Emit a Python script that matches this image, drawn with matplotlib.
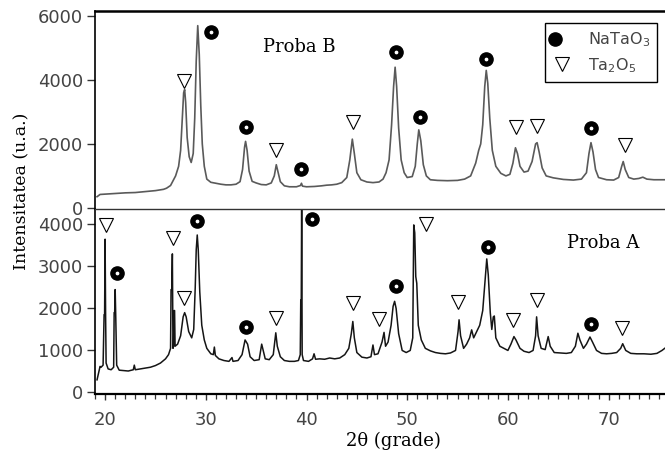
import matplotlib
matplotlib.use('Agg')
from matplotlib import pyplot as plt
from matplotlib.lines import Line2D
from matplotlib.legend_handler import HandlerTuple
from matplotlib.ticker import MultipleLocator

# Proba B (top pattern)
x_b = [19.2, 19.5, 20.0, 20.5, 21.0, 22.0, 23.0, 24.0, 25.0, 25.8, 26.1, 26.5, 27.0, 27.3,
       27.5, 27.65, 27.8, 27.9, 28.0, 28.15, 28.35, 28.55, 28.75, 28.9, 29.05, 29.2,
       29.35, 29.5, 29.65, 29.85, 30.1, 30.5, 31.0, 31.5, 32.0, 32.5, 33.0, 33.4, 33.65,
       33.85, 33.95, 34.1, 34.3, 34.6, 35.0, 35.5, 36.0, 36.5, 36.8, 37.0, 37.15, 37.4,
       37.8, 38.3, 39.0, 39.4, 39.5, 39.6, 40.0, 40.8, 41.5, 42.0, 42.5, 43.0, 43.5, 44.0,
       44.3, 44.55, 44.75, 45.0, 45.4, 46.0, 46.6, 47.2, 47.6, 47.9, 48.2, 48.45, 48.65,
       48.8, 48.95, 49.15, 49.4, 49.7, 50.0, 50.5, 50.8, 51.0, 51.15, 51.35, 51.6, 51.9,
       52.3, 53.0, 54.0, 55.0, 55.7, 56.3, 56.8, 57.1, 57.3, 57.5, 57.7, 57.85, 58.0,
       58.2, 58.45, 58.8, 59.3, 59.8, 60.2, 60.5, 60.75, 60.95, 61.2, 61.6, 62.0, 62.4,
       62.75, 62.9, 63.1, 63.4, 63.8, 64.5, 65.5, 66.5, 67.3, 67.8, 68.05, 68.25, 68.45,
       68.7, 69.0, 69.8, 70.5, 71.0, 71.3, 71.45, 71.65, 72.0, 72.5, 73.0, 73.4, 73.8,
       74.5, 75.6]
y_b = [350, 420, 430, 440, 450, 470, 480, 510, 540, 580, 615, 700, 1000, 1300,
       1800, 2700, 3600, 3700, 3300, 2200, 1600, 1420, 1700, 2800, 4600, 5700,
       4800, 3200, 2000, 1300, 900, 800, 770, 740, 720, 720, 740, 820, 1200,
       1900, 2080, 1800, 1150, 830, 780, 730, 720, 780, 1000, 1350, 1150, 820,
       690, 660, 660, 700, 770, 680, 660, 670, 690, 710, 720, 740, 790, 950,
       1500, 2150, 1700, 1100, 880, 810, 790, 810, 900, 1100, 1500, 2600, 3800,
       4400, 3800, 2500, 1500, 1100, 950, 980, 1300, 2000, 2440, 2100, 1350, 1000,
       880, 860, 850, 860, 900, 1000, 1400, 1800, 2000, 2600, 3800, 4300, 3900,
       2800, 1800, 1300, 1080, 1000, 1050, 1400, 1880, 1700, 1300, 1120, 1150, 1450,
       2000, 2040, 1750, 1250, 1000, 940, 890, 870, 900, 1100, 1700, 2040, 1750,
       1200, 950, 880, 870, 950, 1300, 1450, 1200, 950, 900, 920, 960, 900,
       880, 880]

# Proba A (bottom pattern)
x_a = [19.2, 19.5, 19.6, 19.8, 19.9, 19.95, 20.0, 20.05, 20.1, 20.3, 20.6, 20.85, 20.9,
       20.95, 21.0, 21.05, 21.15, 21.4, 21.8, 22.3, 22.8, 22.9, 23.0, 23.5, 24.0, 24.5,
       25.0, 25.5, 26.0, 26.3, 26.5, 26.55, 26.62, 26.68, 26.74, 26.8, 26.85, 26.9,
       26.95, 27.2, 27.5, 27.75, 27.9, 28.05, 28.3, 28.6, 28.8, 28.95, 29.05, 29.15,
       29.25, 29.4, 29.6, 29.85, 30.1, 30.5, 30.75, 30.85, 30.95, 31.3, 31.8, 32.3,
       32.6, 32.7, 33.2, 33.6, 33.9, 34.15, 34.4, 34.8, 35.3, 35.55, 35.7, 35.9, 36.3,
       36.7, 36.95, 37.1, 37.4, 37.8, 38.3, 38.8, 39.2, 39.38, 39.43, 39.48, 39.52,
       39.57, 39.7, 40.2, 40.6, 40.75, 40.9, 41.3, 41.8, 42.3, 42.8, 43.3, 43.8, 44.2,
       44.45, 44.6, 44.75, 45.0, 45.5, 46.0, 46.4, 46.6, 46.75, 47.1, 47.5, 47.7,
       47.85, 48.1, 48.4, 48.6, 48.75, 48.9, 49.15, 49.5, 49.9, 50.3, 50.55, 50.65,
       50.75, 50.85, 50.95, 51.1, 51.4, 51.8, 52.3, 52.8, 53.3, 53.8, 54.3, 54.8,
       55.05, 55.15, 55.3, 55.6, 55.9, 56.2, 56.4, 56.6, 56.9, 57.2, 57.5, 57.75,
       57.9, 58.05, 58.25, 58.4, 58.55, 58.65, 58.8, 59.2, 59.6, 60.0, 60.3, 60.6,
       60.8, 61.2, 61.6, 62.1, 62.5, 62.75, 62.85, 63.0, 63.3, 63.7, 64.0, 64.2,
       64.6, 65.2, 65.8, 66.3, 66.7, 66.95, 67.15, 67.5, 67.8, 68.15, 68.4, 68.8,
       69.3, 69.8, 70.3, 70.8, 71.2, 71.4, 71.7, 72.2, 72.8, 73.5, 74.2, 74.8, 75.3,
       75.6]
y_a = [300, 620, 600, 650, 1850, 1850, 3650, 1850, 700, 560, 540, 600, 1900,
       1900, 2450, 1900, 650, 530, 520, 510, 540, 650, 540, 560, 580, 600,
       640, 700, 800, 900, 1050, 2450, 2450, 3300, 1050, 1100, 1950, 1950,
       1100, 1150, 1350, 1800, 1900, 1800, 1450, 1300, 1500, 2500, 3400, 3750,
       3400, 2400, 1600, 1250, 1050, 920, 900, 1080, 880, 800, 760, 740,
       830, 740, 760, 900, 1250, 1150, 850, 760, 780, 1150, 1000, 800, 780,
       900, 1420, 1100, 850, 760, 740, 740, 760, 900, 2200, 2200, 4600,
       900, 760, 740, 800, 920, 790, 800, 790, 820, 800, 820, 900, 1050,
       1400, 1690, 1300, 950, 840, 820, 850, 1130, 900, 920, 1200, 1430,
       1100, 1200, 1600, 2050, 2170, 2000, 1400, 1000, 950, 1000, 1300, 3990,
       3800, 2760, 2600, 1600, 1250, 1050, 990, 950, 930, 920, 940, 1000,
       1450, 1730, 1350, 1050, 1150, 1300, 1490, 1300, 1450, 1600, 1950, 2700,
       3180, 2800, 1900, 1500, 1800, 1820, 1300, 1100, 1050, 1000, 1150, 1330,
       1250, 1050, 980, 950, 1000, 1350, 1800, 1350, 1050, 1020, 1330, 1100,
       950, 940, 930, 950, 1100, 1410, 1250, 1050, 1150, 1320, 1200, 1000,
       930, 920, 930, 950, 1050, 1160, 1000, 930, 920, 920, 910, 930, 1000,
       1055]

# phase markers (position, height) for each pattern
natao3_b_x = [30.5, 34.0, 39.5, 48.9, 51.3, 57.8, 68.3]
natao3_b_y = [5510, 2520, 1220, 4885, 2855, 4655, 2510]
ta2o5_b_x = [27.8, 37.0, 44.6, 60.8, 62.9, 71.6]
ta2o5_b_y = [3970, 1810, 2700, 2540, 2560, 1970]

natao3_a_x = [21.2, 29.1, 34.0, 40.5, 48.9, 58.0, 68.3]
natao3_a_y = [2840, 4095, 1570, 4125, 2540, 3475, 1635]
ta2o5_a_x = [20.1, 26.7, 27.8, 37.0, 44.65, 47.2, 51.85, 55.0, 60.55, 62.9, 71.3]
ta2o5_a_y = [3990, 3690, 2260, 1770, 2125, 1745, 4015, 2165, 1730, 2205, 1530]

serif = 'DejaVu Serif'

fig, (ax1, ax2) = plt.subplots(2, 1, sharex=True, figsize=(6.65, 4.61), dpi=100,
                               gridspec_kw={'height_ratios': [198.5, 184.8]})
fig.subplots_adjust(left=0.1429, right=1.0, top=0.976, bottom=0.1453, hspace=0)

ax1.plot(x_b, y_b, color='#5a5a5a', lw=1.2)
ax2.plot(x_a, y_a, color='#151515', lw=1.1)


def put_markers(ax, cx, cy, tx, ty):
    ax.plot(cx, cy, linestyle='None', marker='o', ms=9.5, color='black')
    ax.plot(cx, cy, linestyle='None', marker='o', ms=1.7, color='white')
    ax.plot(tx, ty, linestyle='None', marker='v', ms=10.5, mfc='white',
            mec='black', mew=0.8)


put_markers(ax1, natao3_b_x, natao3_b_y, ta2o5_b_x, ta2o5_b_y)
put_markers(ax2, natao3_a_x, natao3_a_y, ta2o5_a_x, ta2o5_a_y)

ax1.text(35.7, 5040, 'Proba B', family=serif, fontsize=13, va='center')
ax2.text(65.85, 3555, 'Proba A', family=serif, fontsize=13, va='center')

ax1.set_xlim(19.0, 75.6)
ax1.set_ylim(-47, 6156)
ax2.set_ylim(-38, 4360)
ax1.set_yticks([0, 2000, 4000, 6000])
ax2.set_yticks([0, 1000, 2000, 3000, 4000])
ax2.set_xticks([20, 30, 40, 50, 60, 70])
ax2.xaxis.set_minor_locator(MultipleLocator(1))

for ax in (ax1, ax2):
    ax.spines['right'].set_visible(False)
    ax.spines['left'].set_linewidth(1.2)
    ax.tick_params(axis='y', direction='out', length=5.5, width=1, pad=3,
                   labelsize=13, labelcolor='#444444', color='#333333')
ax1.spines['bottom'].set_visible(False)
ax1.spines['top'].set_linewidth(1.8)
ax2.spines['top'].set_linewidth(1.0)
ax2.spines['top'].set_color('#333333')
ax2.spines['bottom'].set_linewidth(1.6)
ax1.tick_params(axis='x', which='both', bottom=False, top=False, labelbottom=False)
ax2.tick_params(axis='x', which='major', direction='out', length=4, width=1, pad=8,
                labelsize=13, labelcolor='#444444', color='#333333')
ax2.tick_params(axis='x', which='minor', direction='out', length=3.5, width=0.9,
                color='#333333')

# legend: circle with white dot, open triangle
h_c = Line2D([], [], linestyle='None', marker='o', ms=9.5, color='black')
h_d = Line2D([], [], linestyle='None', marker='o', ms=1.7, color='white')
h_t = Line2D([], [], linestyle='None', marker='v', ms=10.5, mfc='white',
             mec='black', mew=0.8)
leg = ax1.legend([(h_c, h_d), h_t], ['NaTaO$_3$', 'Ta$_2$O$_5$'],
                 handler_map={tuple: HandlerTuple(ndivide=None)},
                 loc='upper right', bbox_to_anchor=(0.986, 0.94), borderaxespad=0,
                 fontsize=11.5, fancybox=False, framealpha=1, edgecolor='black',
                 handlelength=1.2, handletextpad=1.0, labelspacing=0.45,
                 borderpad=0.45)
leg.get_frame().set_linewidth(1.0)
for t in leg.get_texts():
    t.set_color('#444444')

fig.text(22 / 665, 1 - 191 / 461, 'Intensitatea (u.a.)', family=serif, fontsize=12.5,
         rotation=90, ha='center', va='center')
fig.text(393 / 665, 1 - 441 / 461, '2\u03b8 (grade)', family=serif, fontsize=13,
         ha='center', va='center')

fig.savefig('out.png', dpi=100)
